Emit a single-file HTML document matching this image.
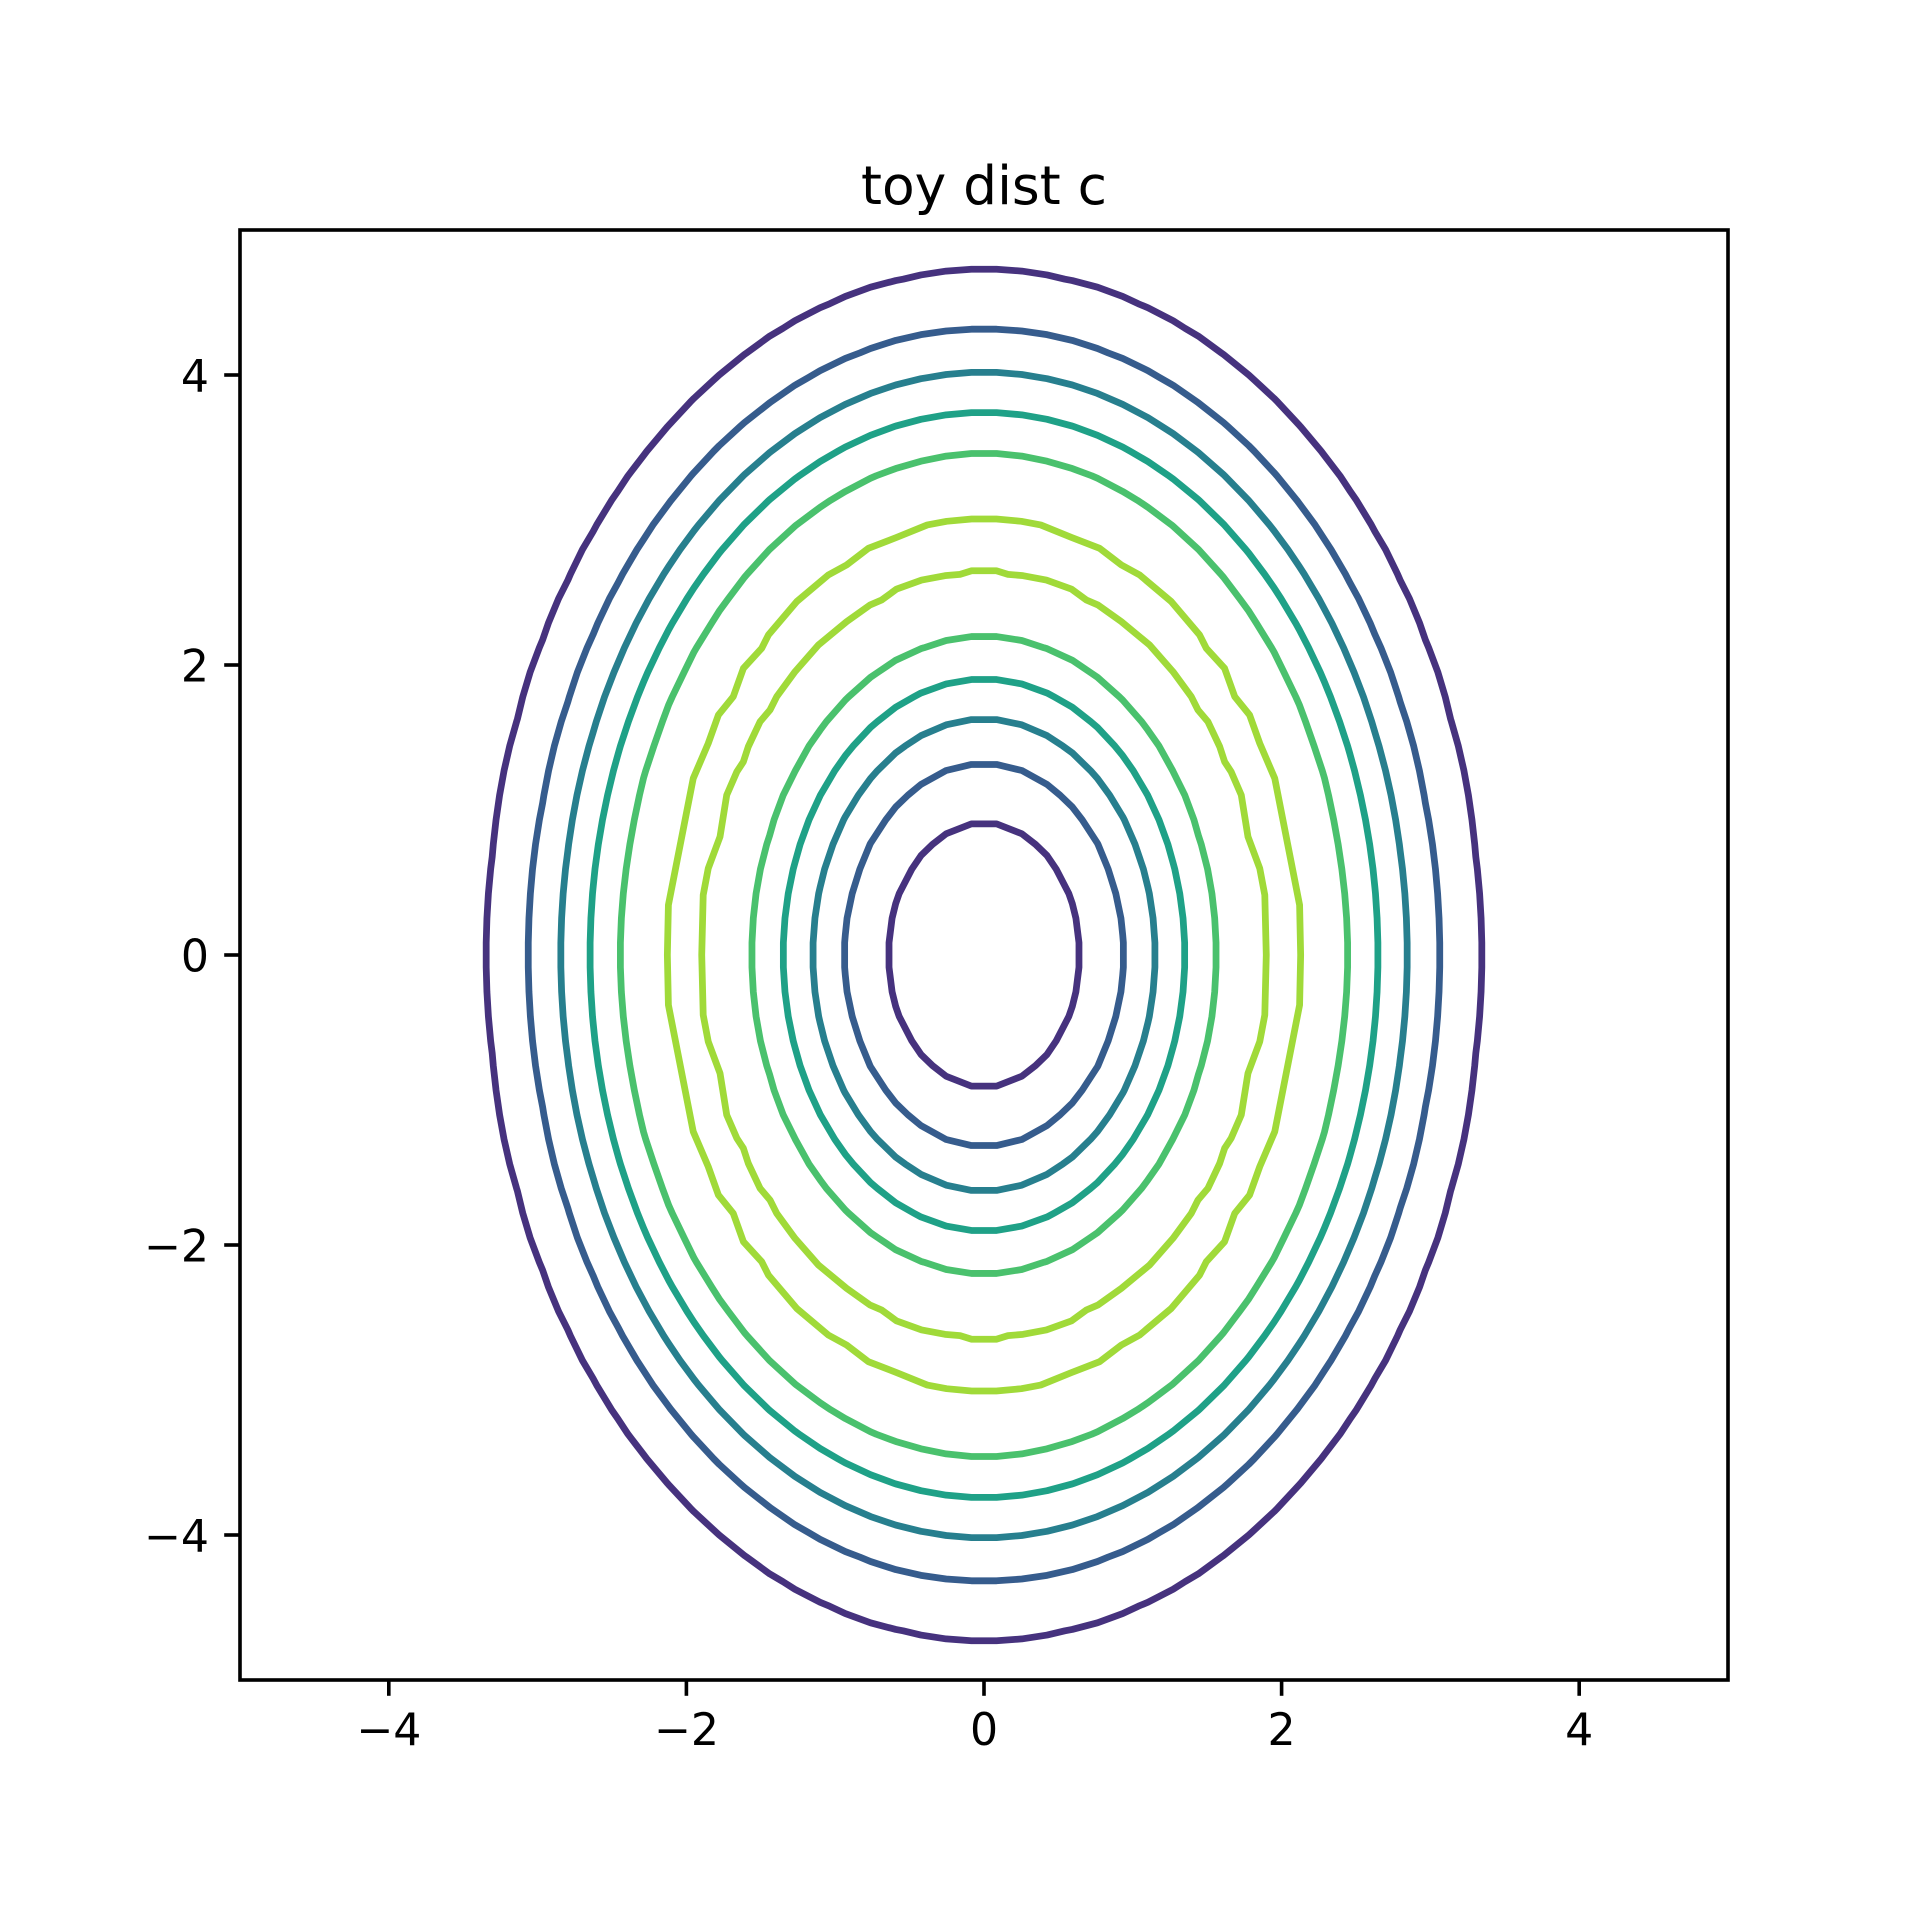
<!DOCTYPE html>
<html lang="en">
<head>
<meta charset="utf-8">
<title>toy dist c</title>
<style>
  html, body { margin: 0; padding: 0; background: #ffffff; }
  svg { display: block; }
  text { font-family: "DejaVu Sans", "Liberation Sans", sans-serif; fill: #000000; }
</style>
</head>
<body>
<svg id="chart" xmlns="http://www.w3.org/2000/svg" width="1920" height="1920" viewBox="0 0 1920 1920">
  <rect x="0" y="0" width="1920" height="1920" fill="#ffffff"/>
  <g id="contours"></g>
  <g id="ticks"></g>
  <rect x="240" y="230" width="1488" height="1450" fill="none" stroke="#000000" stroke-width="3.61"/>
  <text x="984" y="204" font-size="53.4" text-anchor="middle">toy dist c</text>
</svg>
<script>
// Axis ticks (data units and printed labels)
const xTickValues = [-4, -2, 0, 2, 4];
const yTickValues = [-4, -2, 0, 2, 4];
const xTickLabels = ['\u22124', '\u22122', '0', '2', '4'];
const yTickLabels = ['\u22124', '\u22122', '0', '2', '4'];

// Smooth contours, outermost to innermost: semi-axes (data units)
const contourSemiX = [3.340, 3.058, 2.843, 2.648, 2.446, 1.555, 1.349, 1.151, 0.939, 0.647];
const contourSemiY = [4.725, 4.317, 4.019, 3.743, 3.462, 2.195, 1.903, 1.628, 1.322, 0.915];
const contourLevelIndex = [0, 1, 2, 3, 4, 4, 3, 2, 1, 0];
// Estimated field curvature at each contour (from the gaps between neighbouring contours)
const contourBend = [-2.5, -1.5, -0.5, 0.2, 1.7, -1.75, -0.2, 0.3, 1.3, 2];

// The two top-level contours, one quadrant each (data units)
const ridgeOuterX = [0.083, 0.251, 0.381, 0.587, 0.777, 0.923, 1.046, 1.259, 1.449, 1.494, 1.617, 1.685, 1.785, 1.853, 1.954, 2.121, 2.128];
const ridgeOuterY = [3.007, 2.991, 2.966, 2.880, 2.805, 2.690, 2.621, 2.437, 2.207, 2.115, 1.977, 1.782, 1.655, 1.460, 1.218, 0.345, 0];
const ridgeInnerX = [0.083, 0.161, 0.262, 0.419, 0.587, 0.688, 0.766, 0.923, 1.113, 1.270, 1.393, 1.438, 1.505, 1.584, 1.617, 1.661, 1.729, 1.774, 1.853, 1.887, 1.897];
const ridgeInnerY = [2.650, 2.625, 2.616, 2.586, 2.524, 2.448, 2.414, 2.299, 2.138, 1.954, 1.782, 1.690, 1.609, 1.437, 1.333, 1.264, 1.103, 0.816, 0.598, 0.414, 0];

// Colour per contour level
const levelColors = ['#46327e', '#365c8d', '#277f8e', '#1fa187', '#4ac16d', '#a0da39'];
const ridgeLevelIndex = 5;

// Axis functions
const axisLeft = 240, axisRight = 1728, axisTop = 230, axisBottom = 1680;
const domainMin = -5, domainMax = 5;
function xScale(v) { return axisLeft + (v - domainMin) / (domainMax - domainMin) * (axisRight - axisLeft); }
function yScale(v) { return axisBottom - (v - domainMin) / (domainMax - domainMin) * (axisBottom - axisTop); }

// Contours are traced on a 60-point grid: vertices fall on grid lines,
// placed by linear interpolation between grid nodes as a contour tracer does.
const gridCount = 60;
function quadrantFromSemiAxes(a, b, bend) {
  const step = (domainMax - domainMin) / (gridCount - 1);
  function field(x, y) {
    const v = Math.sqrt(x * x + (y * a / b) * (y * a / b)) - a;
    return (Math.exp(bend * v) - 1) / bend;
  }
  const pts = [];
  for (let i = 0; i < gridCount / 2; i++) {
    const line = (i + 0.5) * step;
    for (let j = 0; j < gridCount / 2 - 1; j++) {
      const n0 = (j + 0.5) * step;
      const n1 = n0 + step;
      const v0 = field(line, n0), v1 = field(line, n1);
      if (v0 < 0 && v1 >= 0) pts.push([line, n0 + (-v0 / (v1 - v0)) * step]);
      const w0 = field(n0, line), w1 = field(n1, line);
      if (w0 < 0 && w1 >= 0) pts.push([n0 + (-w0 / (w1 - w0)) * step, line]);
    }
  }
  pts.sort(function (p, q) {
    return Math.atan2(q[1] / b, q[0] / a) - Math.atan2(p[1] / b, p[0] / a);
  });
  return pts;
}
function quadrantFromArrays(xs, ys) {
  return xs.map(function (x, i) { return [x, ys[i]]; });
}
function closedPath(quadrant) {
  const right = quadrant.slice();
  const lowerRight = quadrant.slice().reverse().filter(function (p) { return p[1] !== 0; })
    .map(function (p) { return [p[0], -p[1]]; });
  const halfRight = right.concat(lowerRight);
  const halfLeft = halfRight.slice().reverse().map(function (p) { return [-p[0], p[1]]; });
  const all = halfRight.concat(halfLeft);
  return all.map(function (p, i) {
    return (i === 0 ? 'M' : 'L') + xScale(p[0]).toFixed(2) + ' ' + yScale(p[1]).toFixed(2);
  }).join(' ') + ' Z';
}

const svgNS = 'http://www.w3.org/2000/svg';
const contourGroup = document.getElementById('contours');
const tickGroup = document.getElementById('ticks');

function addContour(quadrant, colorIndex, name) {
  const path = document.createElementNS(svgNS, 'path');
  
  
  path.setAttribute('d', closedPath(quadrant));
  path.setAttribute('fill', 'none');
  path.setAttribute('stroke', levelColors[colorIndex]);
  path.setAttribute('stroke-width', '6.77');
  path.setAttribute('stroke-linejoin', 'round');
  contourGroup.appendChild(path);
}

contourSemiX.forEach(function (a, i) {
  addContour(quadrantFromSemiAxes(a, contourSemiY[i], contourBend[i]), contourLevelIndex[i], 'contour-line-' + (i + 1));
});
addContour(quadrantFromArrays(ridgeOuterX, ridgeOuterY), ridgeLevelIndex, 'contour-ridge-outer');
addContour(quadrantFromArrays(ridgeInnerX, ridgeInnerY), ridgeLevelIndex, 'contour-ridge-inner');

function addTick(x1, y1, x2, y2, name) {
  const line = document.createElementNS(svgNS, 'line');
  
  
  line.setAttribute('x1', x1);
  line.setAttribute('y1', y1);
  line.setAttribute('x2', x2);
  line.setAttribute('y2', y2);
  line.setAttribute('stroke', '#000000');
  line.setAttribute('stroke-width', '3.61');
  tickGroup.appendChild(line);
}
function addLabel(x, y, anchor, content, name) {
  const label = document.createElementNS(svgNS, 'text');
  
  
  label.setAttribute('x', x);
  label.setAttribute('y', y);
  label.setAttribute('font-size', '44.2');
  label.setAttribute('text-anchor', anchor);
  label.textContent = content;
  tickGroup.appendChild(label);
}

xTickValues.forEach(function (v, i) {
  const px = xScale(v);
  addTick(px, axisBottom, px, axisBottom + 15.8, 'x-tick-mark-' + i);
  addLabel(px, 1745, 'middle', xTickLabels[i], 'x-tick-label-' + i);
});
yTickValues.forEach(function (v, i) {
  const py = yScale(v);
  addTick(axisLeft, py, axisLeft - 15.8, py, 'y-tick-mark-' + i);
  addLabel(209, py + 16.6, 'end', yTickLabels[i], 'y-tick-label-' + i);
});
</script>
</body>
</html>
